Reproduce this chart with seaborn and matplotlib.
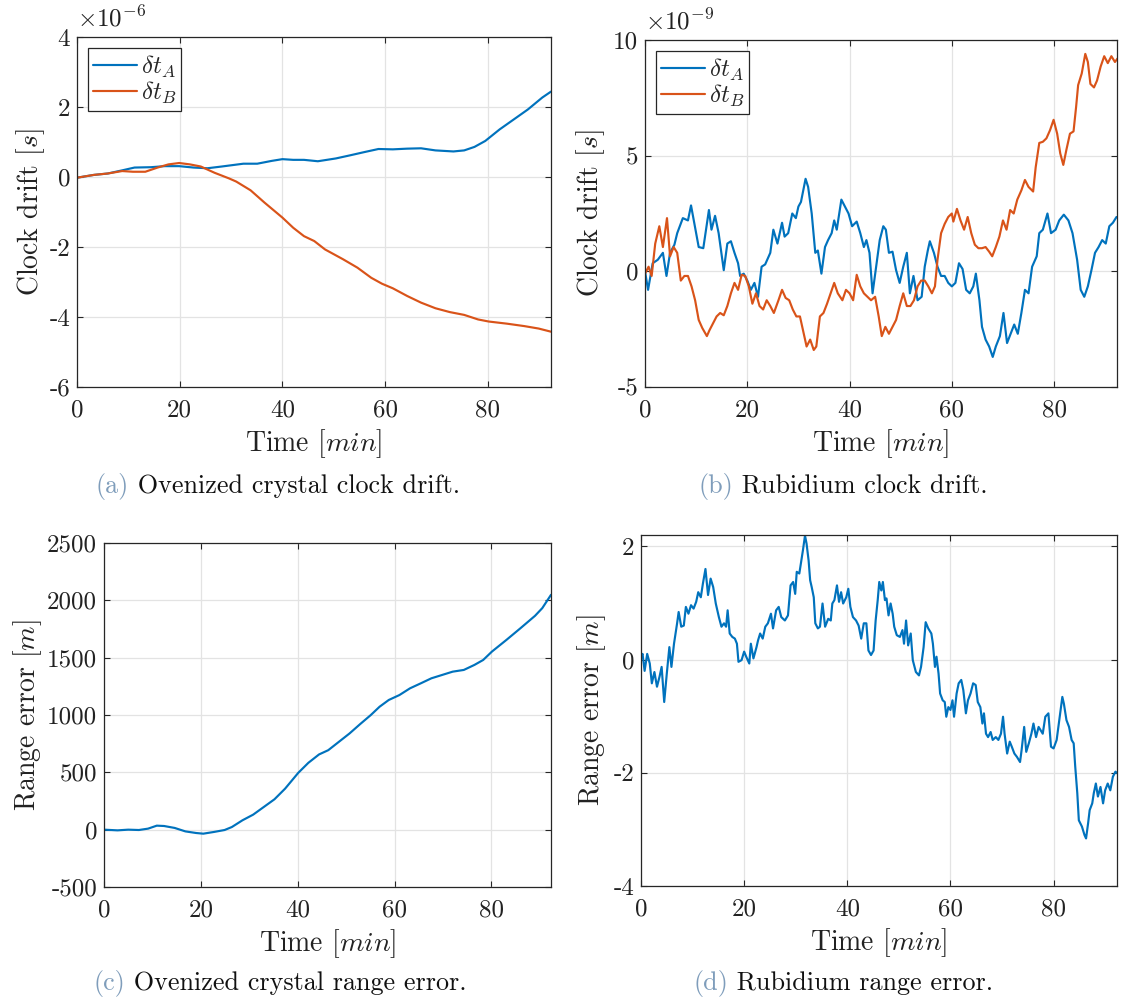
import numpy as np
import pandas as pd
import matplotlib
matplotlib.use("Agg")
import matplotlib.pyplot as plt
import seaborn as sns

# ---------------- data ----------------
# (a) Ovenized crystal clock drift, units of 1e-6 s
t_a_A = [0, 3.3, 6.0, 8.8, 11.2, 14.4, 17.1, 19.9, 22.7, 25.4, 28.2, 32.4, 35.1, 37.9, 40.0,
         42.1, 44.2, 46.9, 50.4, 53.2, 55.9, 58.7, 61.5, 64.3, 67.0, 69.8, 73.3, 75.4, 77.4,
         79.5, 82.3, 85.1, 87.8, 90.6, 92.3]
ocxo_A = [-0.02, 0.06, 0.10, 0.19, 0.27, 0.28, 0.31, 0.31, 0.27, 0.25, 0.30, 0.38, 0.38, 0.46, 0.51,
          0.49, 0.49, 0.45, 0.53, 0.62, 0.71, 0.80, 0.79, 0.81, 0.82, 0.76, 0.73, 0.76, 0.86,
          1.03, 1.36, 1.65, 1.93, 2.27, 2.44]
t_a_B = [0, 3.3, 6.0, 8.8, 10.9, 13.3, 15.7, 17.8, 19.9, 22.0, 24.1, 26.8, 29.6, 31.0, 33.8,
         36.5, 40.0, 42.1, 44.2, 46.2, 48.3, 51.8, 54.6, 57.3, 59.4, 61.5, 64.3, 67.0, 69.8,
         72.6, 75.4, 78.1, 80.2, 83.7, 87.1, 89.9, 92.3]
ocxo_B = [-0.02, 0.06, 0.10, 0.17, 0.15, 0.15, 0.27, 0.36, 0.40, 0.36, 0.30, 0.12, -0.04, -0.13, -0.38,
          -0.73, -1.16, -1.45, -1.69, -1.83, -2.07, -2.35, -2.59, -2.88, -3.05, -3.18, -3.40, -3.59, -3.75,
          -3.86, -3.94, -4.07, -4.13, -4.19, -4.26, -4.33, -4.42]

# (b) Rubidium clock drift, units of 1e-9 s
t_b_A = [0, 0.6, 1.5, 2.5, 3.5, 4.2, 4.9, 5.75, 6.3, 7.4, 8.4, 9.0, 9.8, 10.5, 11.4, 12.5, 13.0,
         13.7, 14.4, 15.4, 16.1, 16.8, 17.5, 18.2, 18.6, 19.3, 20.0, 20.7, 21.4, 22.1, 22.8, 23.5,
         24.5, 25.1, 25.9, 26.8, 27.3, 28.0, 28.8, 29.5, 30.0, 30.5, 31.4, 31.9, 32.6, 33.3, 33.8,
         34.5, 35.2, 35.8, 36.5, 37.0, 37.5, 38.4, 39.1, 39.8, 40.5, 41.4, 42.1, 42.8, 43.3, 43.9,
         44.5, 45.2, 45.9, 46.6, 47.1, 47.7, 48.4, 49.1, 49.8, 50.5, 51.2, 51.8, 52.5, 53.3, 54.1,
         54.7, 55.3, 55.7, 56.5, 57.2, 57.9, 58.6, 59.3, 60.0, 60.7, 61.4, 62.1, 62.8, 63.5, 64.2,
         64.7, 65.4, 65.9, 66.6, 67.3, 68.0, 68.6, 69.4, 70.1, 70.8, 71.5, 72.2, 72.9, 73.6, 74.3,
         75.0, 75.7, 76.6, 77.1, 77.8, 78.7, 79.4, 80.3, 81.0, 81.9, 82.8, 83.6, 84.5, 85.2, 85.9,
         86.6, 87.3, 88.0, 88.7, 89.4, 90.1, 90.8, 91.5, 92.2]
rb_A = [0, -0.8, 0.35, 0.5, 0.8, -0.2, 0.8, 1.15, 1.65, 2.3, 2.2, 2.85, 1.9, 1.05, 1.0, 2.65, 1.8,
        2.4, 1.65, 0.05, 1.2, 1.3, 0.8, 0.35, -0.2, -0.1, -0.4, -0.8, -0.5, -1.1, 0.2, 0.3,
        0.8, 1.8, 1.2, 2.1, 1.5, 1.65, 2.5, 2.3, 2.8, 3.0, 4.0, 3.65, 2.5, 0.8, 0.9,
        -0.1, 1.05, 1.35, 1.65, 2.2, 1.8, 3.1, 2.8, 2.5, 1.95, 2.15, 1.65, 1.05, 1.35, 0.8,
        -0.95, 0.2, 1.35, 1.95, 1.8, 0.8, 0.85, 0.05, -0.5, 0.2, 0.8, -0.95, -0.2, -1.25, -1.1,
        0.2, 0.9, 1.3, 0.8, 0.2, -0.2, -0.2, -0.5, -0.65, -0.5, 0.35, 0.1, -0.8, -0.95, -0.65,
        -0.1, -1.25, -2.4, -2.95, -3.25, -3.7, -3.25, -2.8, -1.8, -3.1, -2.7, -2.3, -2.7, -1.8, -0.8,
        -0.95, 0.2, 0.65, 1.65, 1.8, 2.5, 1.65, 1.8, 2.2, 2.45, 2.2, 1.65, 0.5, -0.8, -1.1,
        -0.65, 0.05, 0.8, 1.05, 1.35, 1.2, 1.95, 2.1, 2.35]
t_b_B = [0, 0.7, 1.3, 2.0, 2.8, 3.5, 4.3, 4.9, 5.6, 6.3, 7.0, 7.7, 8.4, 9.1, 9.8, 10.5, 11.2,
         12.1, 12.6, 13.3, 14.0, 14.7, 15.4, 16.1, 16.8, 17.5, 18.2, 18.9, 19.6, 20.3, 21.0, 21.7,
         22.4, 23.1, 23.8, 24.5, 25.2, 26.1, 26.8, 27.5, 28.2, 28.9, 29.6, 30.3, 30.9, 31.6, 32.3,
         33.0, 33.5, 34.2, 34.9, 35.6, 36.3, 37.0, 37.7, 38.6, 39.3, 40.0, 40.7, 41.4, 42.1, 42.8,
         43.5, 44.2, 45.0, 45.7, 46.3, 47.0, 47.7, 48.4, 49.1, 49.8, 50.5, 51.2, 51.9, 52.6, 53.3,
         54.0, 54.7, 55.4, 56.1, 56.7, 57.2, 57.9, 58.6, 59.3, 60.0, 60.3, 61.0, 61.7, 62.4, 63.1,
         63.8, 64.5, 65.2, 65.9, 66.6, 67.3, 67.9, 68.6, 69.3, 70.0, 70.7, 71.4, 72.1, 72.8, 73.6,
         74.3, 75.0, 75.9, 76.4, 77.1, 77.8, 78.5, 79.2, 79.9, 80.6, 81.2, 81.8, 82.4, 83.1, 83.8,
         84.3, 84.7, 85.4, 86.1, 86.6, 87.1, 87.8, 88.4, 89.1, 89.8, 90.5, 91.2, 91.9, 92.4]
rb_B = [-0.1, 0.2, -0.2, 1.2, 1.95, 1.05, 2.3, 0.65, 1.05, 0.8, -0.4, -0.2, -0.2, -0.65, -1.25, -2.1, -2.45,
        -2.8, -2.55, -2.25, -1.95, -1.8, -1.9, -1.5, -0.95, -0.5, -0.8, -0.15, -0.2, -0.65, -1.4, -0.95,
        -1.5, -1.65, -1.25, -1.5, -1.8, -1.25, -0.8, -1.15, -1.25, -1.65, -1.95, -1.95, -2.55, -3.25, -2.95,
        -3.4, -3.25, -1.95, -1.8, -1.4, -0.95, -0.5, -0.95, -1.25, -0.8, -0.95, -1.25, -0.15, -0.65, -0.95,
        -1.1, -1.25, -1.1, -1.95, -2.8, -2.4, -2.7, -2.4, -2.1, -1.5, -0.95, -1.5, -1.5, -1.25, -0.65,
        -0.4, -0.4, -0.65, -0.95, -0.65, 0.5, 1.65, 2.05, 2.35, 2.5, 2.15, 2.7, 2.2, 1.8, 2.35,
        1.65, 1.15, 1.0, 1.0, 1.05, 0.85, 0.65, 1.05, 1.5, 2.2, 1.8, 2.65, 2.5, 3.1, 3.5,
        3.95, 3.65, 3.45, 4.5, 5.55, 5.6, 5.75, 6.1, 6.55, 5.95, 5.1, 4.6, 5.25, 5.95, 6.05,
        7.1, 8.05, 8.55, 9.4, 9.05, 8.1, 7.95, 8.25, 8.85, 9.3, 9.0, 9.3, 9.05, 9.2]

# (c) Ovenized crystal range error [m]
t_c = [0, 2.8, 5.0, 7.2, 9.1, 10.9, 12.4, 14.6, 16.8, 19.0, 20.5, 22.7, 24.9, 26.4, 28.6, 30.8,
       33.0, 35.2, 37.4, 40.1, 42.2, 44.4, 46.3, 48.5, 50.7, 52.9, 55.1, 56.9, 58.8, 61.0, 63.2,
       65.4, 67.6, 69.8, 72.0, 74.3, 76.5, 78.3, 80.1, 83.1, 86.0, 89.0, 90.5, 92.3]
range_ocxo = [0, -6, 0, -3, 9, 35, 32, 15, -15, -29, -35, -20, -3, 23, 82, 131,
              198, 265, 358, 495, 583, 656, 693, 766, 839, 921, 1000, 1072, 1131, 1174, 1233,
              1276, 1320, 1349, 1378, 1393, 1437, 1480, 1553, 1655, 1757, 1865, 1932, 2048]

# (d) Rubidium range error [m]
t_d = [0, 0.3, 0.7, 1.2, 1.7, 2.1, 2.6, 3.1, 3.6, 4.0, 4.5, 5.0, 5.5, 5.9, 6.4, 7.0, 7.3, 7.8,
       8.3, 8.7, 9.2, 9.7, 10.2, 10.7, 11.1, 11.6, 12.0, 12.5, 13.0, 13.5, 14.0, 14.5, 15.1, 15.6,
       16.1, 16.5, 16.8, 17.2, 17.7, 18.2, 18.6, 18.9, 19.5, 20.0, 20.4, 21.0, 21.3, 21.8, 22.4,
       22.7, 23.1, 23.6, 24.1, 24.6, 25.2, 25.6, 26.2, 26.7, 27.2, 27.9, 28.5, 29.0, 29.5, 29.9,
       30.2, 30.7, 31.1, 31.4, 31.8, 32.1, 32.5, 32.8, 33.1, 33.5, 33.8, 34.3, 34.7, 35.2, 35.7,
       36.3, 36.8, 37.1, 37.5, 38.0, 38.4, 38.8, 39.2, 39.8, 40.2, 40.6, 41.1, 41.7, 42.2, 42.7,
       43.2, 43.7, 44.1, 44.6, 45.1, 45.5, 45.9, 46.2, 46.6, 46.9, 47.3, 47.6, 48.0, 48.4, 48.8,
       49.1, 49.6, 50.2, 50.7, 51.0, 51.4, 51.8, 52.3, 52.7, 53.3, 53.9, 54.3, 54.8, 55.2, 55.7,
       56.3, 56.6, 57.0, 57.3, 57.7, 58.0, 58.5, 58.9, 59.2, 59.6, 60.0, 60.4, 60.7, 61.2, 61.6,
       62.1, 62.5, 63.0, 63.4, 63.9, 64.4, 64.9, 65.3, 65.8, 66.2, 66.5, 66.9, 67.3, 67.8, 68.2,
       68.8, 69.3, 69.8, 70.2, 70.5, 71.0, 71.5, 71.9, 72.4, 72.9, 73.5, 73.8, 74.3, 74.7, 75.2,
       75.7, 76.1, 76.6, 77.1, 77.5, 77.9, 78.4, 79.0, 79.5, 80.0, 80.6, 81.1, 81.7, 82.0, 82.5,
       83.0, 83.5, 83.9, 84.2, 84.6, 84.9, 85.5, 86.0, 86.3, 86.7, 87.0, 87.5, 87.8, 88.2, 88.6,
       89.1, 89.6, 90.0, 90.5, 91.0, 91.5, 92.0, 92.4]
range_rb = [0.05, 0.1, -0.2, 0.1, -0.07, -0.42, -0.22, -0.48, -0.3, -0.13, -0.75, -0.25, 0.22, -0.13, 0.28, 0.64, 0.84, 0.58,
            0.6, 0.93, 0.81, 0.96, 0.9, 1.02, 1.19, 1.1, 1.34, 1.6, 1.14, 1.43, 1.28, 0.99, 0.75, 0.58,
            0.64, 0.58, 0.87, 0.46, 0.4, 0.37, 0.28, -0.04, -0.01, 0.14, 0.05, -0.07, 0.28, 0.02, 0.22,
            0.34, 0.46, 0.37, 0.58, 0.64, 0.81, 0.55, 0.87, 0.93, 0.75, 0.69, 0.78, 1.31, 1.37, 1.16,
            1.55, 1.52, 1.75, 1.93, 2.19, 2.05, 1.75, 1.4, 1.28, 1.1, 0.64, 0.55, 0.58, 0.99, 0.58,
            0.72, 0.69, 0.99, 1.05, 1.31, 1.02, 1.19, 0.99, 1.1, 1.25, 0.93, 0.75, 0.69, 0.6, 0.37,
            0.64, 0.64, 0.16, 0.08, 0.16, 0.69, 1.05, 1.37, 1.22, 1.37, 1.05, 1.08, 0.78, 0.99, 0.81,
            0.58, 0.43, 0.4, 0.52, 0.28, 0.69, 0.25, 0.46, -0.01, -0.22, -0.28, -0.13, 0.22, 0.66, 0.55,
            0.46, 0.28, -0.13, 0.05, -0.25, -0.6, -0.72, -0.75, -1.01, -0.84, -0.89, -0.72, -1.01, -0.6, -0.42,
            -0.36, -0.54, -0.95, -0.72, -0.6, -0.42, -0.45, -0.75, -0.84, -1.13, -0.95, -1.31, -1.37, -1.28, -1.42,
            -1.37, -1.42, -1.31, -1.01, -1.31, -1.66, -1.45, -1.54, -1.66, -1.72, -1.81, -1.6, -1.19, -1.63, -1.48,
            -1.31, -1.13, -1.37, -1.19, -1.25, -1.31, -1.01, -0.95, -1.54, -1.57, -1.42, -1.07, -0.66, -0.78, -1.07,
            -1.19, -1.42, -1.48, -1.89, -2.36, -2.84, -2.95, -3.1, -3.16, -2.89, -2.66, -2.54, -2.36, -2.19, -2.42,
            -2.25, -2.54, -2.31, -2.19, -2.31, -2.07, -1.98, -2.01]

x_ticks = [0, 20, 40, 60, 80]
x_max = 92.3
captions = [("(a)", "Ovenized crystal clock drift."),
            ("(b)", "Rubidium clock drift."),
            ("(c)", "Ovenized crystal range error."),
            ("(d)", "Rubidium range error.")]

# ---------------- style ----------------
sns.set_theme(style="ticks")
plt.rcParams.update({
    "font.family": ["cmr10", "DejaVu Serif"],
    "mathtext.fontset": "cm",
    "axes.unicode_minus": False,
    "axes.formatter.use_mathtext": True,
})

BLUE = "#0072BD"
ORANGE = "#D95319"
EDGE = "#262626"
GRID = "#e3e3e3"
CAPCOL = "#7f9dbb"
TICK_FS = 18
LABEL_FS = 20
CAP_FS = 18.8
LW = 1.55

fig = plt.figure(figsize=(11.21, 10.01), dpi=100)
W, H = 1121, 1001


def add_axes(left, top, right, bottom):
    return fig.add_axes([left / W, 1 - bottom / H, (right - left) / W, (bottom - top) / H])


ax_a = add_axes(77, 37, 551, 387)
ax_b = add_axes(645, 40, 1117, 387)
ax_c = add_axes(104, 543, 551, 887)
ax_d = add_axes(641, 535, 1117, 886)


def style(ax, yticks, ylim, ylabel, ypad):
    ax.set_xlim(0, x_max)
    ax.set_ylim(*ylim)
    ax.set_xticks(x_ticks)
    ax.set_yticks(yticks)
    ax.set_xticklabels([f"{v:g}" for v in x_ticks])
    ax.set_yticklabels([f"{v:g}" for v in yticks])
    ax.grid(True, color=GRID, linewidth=0.9)
    ax.set_axisbelow(True)
    for s in ax.spines.values():
        s.set_color(EDGE)
        s.set_linewidth(0.9)
        s.set_visible(True)
    ax.tick_params(direction="in", top=True, right=True, length=4, width=0.8,
                   color=EDGE, labelsize=TICK_FS, labelcolor="#222222")
    ax.tick_params(axis="x", pad=9)
    ax.tick_params(axis="y", pad=5)
    ax.set_xlabel(r"Time $[min]$", fontsize=LABEL_FS, labelpad=4, color="#222222")
    ax.set_ylabel(ylabel, fontsize=LABEL_FS, labelpad=ypad, color="#222222")


# (a)
sns.lineplot(x=t_a_A, y=ocxo_A, ax=ax_a, color=BLUE, linewidth=LW, label=r"$\delta t_A$",
             estimator=None, sort=False)
sns.lineplot(x=t_a_B, y=ocxo_B, ax=ax_a, color=ORANGE, linewidth=LW, label=r"$\delta t_B$",
             estimator=None, sort=False)
style(ax_a, [-6, -4, -2, 0, 2, 4], (-6, 4), r"Clock drift $[s]$", 2)
ax_a.text(0, 1.015, r"$\times 10^{-6}$", transform=ax_a.transAxes, fontsize=TICK_FS,
          ha="left", va="bottom", color="#222222")

# (b)
sns.lineplot(x=t_b_A, y=rb_A, ax=ax_b, color=BLUE, linewidth=LW, label=r"$\delta t_A$",
             estimator=None, sort=False)
sns.lineplot(x=t_b_B, y=rb_B, ax=ax_b, color=ORANGE, linewidth=LW, label=r"$\delta t_B$",
             estimator=None, sort=False)
style(ax_b, [-5, 0, 5, 10], (-5, 10), r"Clock drift $[s]$", 4)
ax_b.text(0, 1.015, r"$\times 10^{-9}$", transform=ax_b.transAxes, fontsize=TICK_FS,
          ha="left", va="bottom", color="#222222")

# (c)
sns.lineplot(x=t_c, y=range_ocxo, ax=ax_c, color=BLUE, linewidth=LW, estimator=None, sort=False)
style(ax_c, [-500, 0, 500, 1000, 1500, 2000, 2500], (-500, 2500), r"Range error $[m]$", 2)

# (d)
sns.lineplot(x=t_d, y=range_rb, ax=ax_d, color=BLUE, linewidth=LW, estimator=None, sort=False)
style(ax_d, [-4, -2, 0, 2], (-4, 2.2), r"Range error $[m]$", 4)

for ax in (ax_a, ax_b):
    leg = ax.legend(loc="upper left", fontsize=TICK_FS, frameon=True, fancybox=False,
                    edgecolor=EDGE, framealpha=1, handlelength=1.75, handletextpad=0.15,
                    borderpad=0.2, labelspacing=0.0, borderaxespad=0.45)
    leg.get_frame().set_linewidth(0.9)

# captions
fig.canvas.draw()
renderer = fig.canvas.get_renderer()
cap_pos = [(278, 493), (843, 493), (280, 990), (843, 990)]
for (tag, body), (cx, by) in zip(captions, cap_pos):
    t1 = fig.text(0, 1 - by / H, tag, fontsize=CAP_FS, color=CAPCOL, ha="left", va="baseline")
    t2 = fig.text(0, 1 - by / H, " " + body, fontsize=CAP_FS, color="#111111", ha="left", va="baseline")
    w1 = t1.get_window_extent(renderer).width
    w2 = t2.get_window_extent(renderer).width
    x0 = cx - (w1 + w2) / 2
    t1.set_x(x0 / W)
    t2.set_x((x0 + w1) / W)

fig.savefig("out.png", dpi=100)
